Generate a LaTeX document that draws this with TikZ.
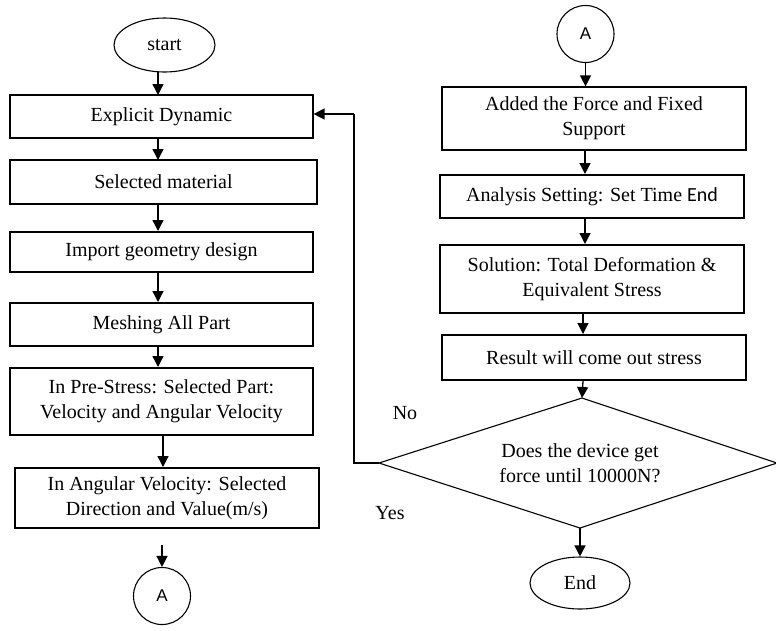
\documentclass[tikz,border=0pt]{standalone}
\usepackage{fontspec}
\setmainfont{Liberation Serif}
\newfontfamily\sansA{Liberation Sans}
\newfontfamily\calib{Carlito}
\usetikzlibrary{shapes.geometric,arrows.meta}
\begin{document}
\begin{tikzpicture}[x=1pt,y=-1pt,
  every node/.style={font=\fontsize{20}{25}\selectfont},
  box/.style={draw,line width=1.2pt,inner sep=0pt,align=center},
  term/.style={draw,ellipse,line width=1.1pt,inner sep=0pt},
  conn/.style={draw,circle,line width=1.1pt,inner sep=0pt,minimum size=57pt,font=\sansA\fontsize{17}{20}\selectfont},
  arr/.style={line width=1.3pt,-{Triangle[width=11pt,length=11pt]}},
  ln/.style={line width=1.3pt}]
\useasboundingbox (0,0) rectangle (776,630);
% left column
\node[term,minimum width=101pt,minimum height=54pt] (start) at (164.5,45) {start};
\node[box,minimum width=303pt,minimum height=43pt] (b1) at (161.5,116.5) {Explicit Dynamic};
\node[box,minimum width=307pt,minimum height=44pt] (b2) at (163.5,182) {Selected material};
\node[box,minimum width=303pt,minimum height=40pt] (b3) at (161.5,252) {Import geometry design};
\node[box,minimum width=303pt,minimum height=43pt] (b4) at (161.5,324.5) {Meshing All Part};
\node[box,minimum width=303pt,minimum height=67pt] (b5) at (161.5,401.5) {In Pre-Stress: Selected Part:\\Velocity and Angular Velocity};
\node[box,minimum width=304pt,minimum height=60pt] (b6) at (167,498) {In Angular Velocity: Selected\\Direction and Value(m/s)};
\node[conn] (a1) at (162,596) {A};
% right column
\node[conn] (a2) at (585.5,34) {A};
\node[box,minimum width=304pt,minimum height=63pt] (c1) at (594,118.5) {Added the Force and Fixed\\Support};
\node[box,minimum width=304pt,minimum height=43pt] (c2) at (592,196.5) {Analysis Setting: Set Time {\calib End}};
\node[box,minimum width=304pt,minimum height=68pt] (c3) at (592,279) {Solution: Total Deformation \&\\Equivalent Stress};
\node[box,minimum width=304pt,minimum height=45pt] (c4) at (594,357.5) {Result will come out stress};
% decision
\coordinate (dt) at (582,398);
\coordinate (dl) at (379,463);
\coordinate (db) at (580,528);
\coordinate (dr) at (777,463);
\draw[line width=1.1pt] (dt) -- (dr) -- (db) -- (dl) -- cycle;
\node[align=center] (d) at (580,463) {Does the device get\\force until 10000N?};
\node[term,minimum width=100pt,minimum height=52pt] (end) at (580,583) {End};
\node (no) at (405,413) {No};
\node (yes) at (390,513) {Yes};
\coordinate (fb1) at (354,463);
\coordinate (fb2) at (354,114);
% arrows left
\draw[arr] (158,72) -- (158,95);
\draw[arr] (158,138) -- (158,160);
\draw[arr] (158,205) -- (158,231);
\draw[arr] (158,273) -- (158,302);
\draw[arr] (158,347) -- (158,367);
\draw[arr] (163,436) -- (163,467);
\draw[arr] (162,545) -- (a1.north);
% arrows right
\draw[arr] (a2.south) -- (a2.south |- c1.north);
\draw[arr] (585,151) -- (585,174);
\draw[arr] (585,219) -- (585,244);
\draw[arr] (583,314) -- (583,334);
\draw[arr] (583,381) -- (dt);
\draw[arr] (db) -- (end.north);
% feedback
\draw[ln] (dl) -- (fb1) -- (fb2);
\draw[arr] (fb2) -- (fb2 -| b1.east);
\end{tikzpicture}
\end{document}
